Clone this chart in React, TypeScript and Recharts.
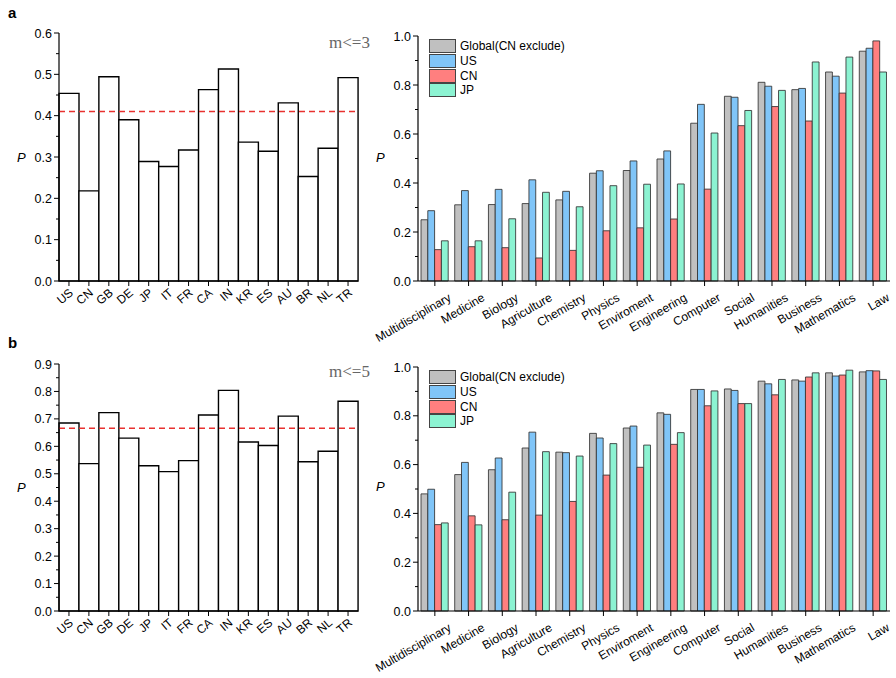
import { Bar, BarChart, Legend, ReferenceLine, XAxis, YAxis } from "recharts";

const FONT = "Arial, 'Liberation Sans', sans-serif";
const SERIF = "'Times New Roman', 'Liberation Serif', serif";

// left panels: P per country
const countries = ["US", "CN", "GB", "DE", "JP", "IT", "FR", "CA", "IN", "KR", "ES", "AU", "BR", "NL", "TR"];
const countryM3 = [0.454, 0.218, 0.494, 0.39, 0.289, 0.277, 0.317, 0.463, 0.513, 0.336, 0.314, 0.431, 0.253, 0.321, 0.492];
const countryM5 = [0.685, 0.537, 0.723, 0.63, 0.529, 0.508, 0.548, 0.714, 0.804, 0.616, 0.603, 0.71, 0.544, 0.582, 0.764];
const averageM3 = 0.41;
const averageM5 = 0.666;

// right panels: P per field
const fields = [
  "Multidisciplinary", "Medicine", "Biology", "Agriculture", "Chemistry", "Physics", "Enviroment",
  "Engineering", "Computer", "Social", "Humanities", "Business", "Mathematics", "Law",
];
const seriesNames = ["Global(CN exclude)", "US", "CN", "JP"];
const seriesColors = ["#c0c0c0", "#80c5f8", "#ff7f7f", "#8cf3d2"];

const globalM3 = [0.25, 0.311, 0.312, 0.316, 0.331, 0.44, 0.451, 0.498, 0.644, 0.754, 0.811, 0.781, 0.853, 0.938];
const usM3 = [0.287, 0.369, 0.374, 0.413, 0.366, 0.45, 0.49, 0.531, 0.721, 0.75, 0.795, 0.786, 0.836, 0.95];
const cnM3 = [0.128, 0.14, 0.136, 0.094, 0.125, 0.205, 0.217, 0.253, 0.375, 0.634, 0.712, 0.653, 0.767, 0.98];
const jpM3 = [0.164, 0.164, 0.254, 0.362, 0.303, 0.389, 0.395, 0.396, 0.604, 0.696, 0.778, 0.894, 0.914, 0.853];

const globalM5 = [0.48, 0.559, 0.579, 0.668, 0.651, 0.728, 0.75, 0.812, 0.908, 0.91, 0.942, 0.947, 0.976, 0.98];
const usM5 = [0.499, 0.609, 0.627, 0.733, 0.649, 0.709, 0.758, 0.806, 0.908, 0.904, 0.931, 0.942, 0.963, 0.985];
const cnM5 = [0.354, 0.39, 0.374, 0.393, 0.449, 0.557, 0.589, 0.683, 0.841, 0.85, 0.886, 0.959, 0.967, 0.984];
const jpM5 = [0.361, 0.353, 0.487, 0.653, 0.635, 0.686, 0.68, 0.731, 0.902, 0.85, 0.949, 0.976, 0.987, 0.949];

const ticksM3 = [0, 0.1, 0.2, 0.3, 0.4, 0.5, 0.6];
const ticksM5 = [0, 0.1, 0.2, 0.3, 0.4, 0.5, 0.6, 0.7, 0.8, 0.9];
const ticksField = [0, 0.2, 0.4, 0.6, 0.8, 1.0];

// put a minor tick halfway between each pair of major ticks
const withMinor = (major: number[]) =>
  major.flatMap((v, i) => (i === 0 ? [v] : [(major[i - 1] + v) / 2, v]));

const countryData = (values: number[]) => countries.map((name, i) => ({ name, p: values[i] }));
const fieldData = (g: number[], us: number[], cn: number[], jp: number[]) =>
  fields.map((name, i) => ({ name, global: g[i], us: us[i], cn: cn[i], jp: jp[i] }));

function YTick(props: any) {
  const { x, y, payload, index } = props;
  const ax = x + 5;
  const major = index % 2 === 0;
  return (
    <g>
      <line x1={ax} x2={ax - (major ? 5 : 3)} y1={y} y2={y} stroke="#000" strokeWidth={1} />
      {major && (
        <text x={ax - 7} y={y} dy="0.36em" textAnchor="end" fontSize={12.5} fontFamily={FONT} fill="#000">
          {payload.value.toFixed(1)}
        </text>
      )}
    </g>
  );
}

function CountryTick(props: any) {
  const { x, y, payload } = props;
  return (
    <g transform={`translate(${x + 5},${y + 8}) rotate(-40)`}>
      <text x={0} y={0} textAnchor="end" fontSize={12} fontFamily={FONT} fill="#000">
        {payload.value}
      </text>
    </g>
  );
}

function FieldTick(props: any) {
  const { x, y, payload } = props;
  return (
    <g transform={`translate(${x + 17},${y + 14}) rotate(-30)`}>
      <text x={0} y={0} textAnchor="end" fontSize={12} fontFamily={FONT} fill="#000">
        {payload.value}
      </text>
    </g>
  );
}

function FieldLegend(props: any) {
  const items = [...(props.payload || [])].sort(
    (a: any, b: any) => seriesNames.indexOf(a.value) - seriesNames.indexOf(b.value),
  );
  return (
    <div style={{ fontFamily: FONT, fontSize: 12, color: "#000" }}>
      {items.map((entry: any) => (
        <div key={entry.value} style={{ display: "flex", alignItems: "center", height: 14.7 }}>
          <span
            style={{
              display: "inline-block",
              width: 27,
              height: 14,
              boxSizing: "border-box",
              background: entry.color,
              border: "1px solid #444",
              marginRight: 4,
            }}
          />
          <span>{entry.value}</span>
        </div>
      ))}
    </div>
  );
}

function CountryChart({ values, average, ticks, height, top }: any) {
  return (
    <BarChart
      width={380}
      height={height}
      data={countryData(values)}
      margin={{ top, right: 22, left: 0, bottom: 0 }}
      barCategoryGap={0}
    >
      <XAxis
        dataKey="name"
        interval={0}
        height={height - 281}
        stroke="#000"
        axisLine={{ stroke: "#000", strokeWidth: 1.2 }}
        tickLine={{ stroke: "#000" }}
        tickSize={5}
        tickMargin={0}
        tick={<CountryTick />}
      />
      <YAxis
        width={59}
        domain={[0, ticks[ticks.length - 1]]}
        ticks={withMinor(ticks)}
        interval={0}
        axisLine={{ stroke: "#000", strokeWidth: 1.2 }}
        tickLine={false}
        tickSize={5}
        tickMargin={0}
        tick={<YTick />}
      />
      <Bar dataKey="p" fill="#fff" stroke="#000" strokeWidth={1.4} isAnimationActive={false} />
      <ReferenceLine y={average} stroke="#e8312f" strokeWidth={1.5} strokeDasharray="6 4" />
    </BarChart>
  );
}

function FieldChart({ data, height, top }: any) {
  const keys = ["global", "us", "cn", "jp"];
  return (
    <BarChart
      width={536}
      height={height}
      data={data}
      margin={{ top, right: 6, left: 0, bottom: 0 }}
      barSize={6.8}
      barGap={0}
    >
      <XAxis
        dataKey="name"
        interval={0}
        height={height - 281}
        stroke="#000"
        axisLine={{ stroke: "#000", strokeWidth: 1.2 }}
        tickLine={{ stroke: "#000" }}
        tickSize={5}
        tickMargin={0}
        tick={<FieldTick />}
      />
      <YAxis
        width={58}
        domain={[0, 1]}
        ticks={withMinor(ticksField)}
        interval={0}
        axisLine={{ stroke: "#000", strokeWidth: 1.2 }}
        tickLine={false}
        tickSize={5}
        tickMargin={0}
        tick={<YTick />}
      />
      <Legend
        layout="vertical"
        align="center"
        verticalAlign="middle"
        content={<FieldLegend />}
        wrapperStyle={{ left: 69, top: top + 3, width: 160 }}
      />
      {keys.map((k, i) => (
        <Bar
          key={k}
          dataKey={k}
          name={seriesNames[i]}
          fill={seriesColors[i]}
          stroke="#333"
          strokeOpacity={0.85}
          strokeWidth={1}
          isAnimationActive={false}
        />
      ))}
    </BarChart>
  );
}

const labelStyle = { position: "absolute" as const, fontFamily: FONT, margin: 0 };

export default function App() {
  return (
    <div style={{ position: "absolute", left: 0, top: 0, width: 896, height: 678, background: "#fff", overflow: "hidden" }}>
      <div style={{ position: "absolute", left: 0, top: 0 }}>
        <CountryChart values={countryM3} average={averageM3} ticks={ticksM3} height={345} top={33} />
      </div>
      <div style={{ position: "absolute", left: 360, top: 0 }}>
        <FieldChart data={fieldData(globalM3, usM3, cnM3, jpM3)} height={345} top={36} />
      </div>
      <div style={{ position: "absolute", left: 0, top: 330 }}>
        <CountryChart values={countryM5} average={averageM5} ticks={ticksM5} height={348} top={34} />
      </div>
      <div style={{ position: "absolute", left: 360, top: 330 }}>
        <FieldChart data={fieldData(globalM5, usM5, cnM5, jpM5)} height={348} top={37} />
      </div>

      <div style={{ ...labelStyle, left: 8, top: 5, fontSize: 15, lineHeight: "15px", fontWeight: "bold" }}>a</div>
      <div style={{ ...labelStyle, left: 8, top: 335, fontSize: 15, lineHeight: "15px", fontWeight: "bold" }}>b</div>

      <div style={{ ...labelStyle, left: 17, top: 151, fontSize: 13, lineHeight: "13px", fontStyle: "italic" }}>P</div>
      <div style={{ ...labelStyle, left: 376, top: 151, fontSize: 13, lineHeight: "13px", fontStyle: "italic" }}>P</div>
      <div style={{ ...labelStyle, left: 17, top: 481, fontSize: 13, lineHeight: "13px", fontStyle: "italic" }}>P</div>
      <div style={{ ...labelStyle, left: 376, top: 480, fontSize: 13, lineHeight: "13px", fontStyle: "italic" }}>P</div>

      <div style={{ ...labelStyle, fontFamily: SERIF, left: 329, top: 34, fontSize: 17, lineHeight: "17px", color: "#666" }}>
        m&lt;=3
      </div>
      <div style={{ ...labelStyle, fontFamily: SERIF, left: 329, top: 363, fontSize: 17, lineHeight: "17px", color: "#666" }}>
        m&lt;=5
      </div>
    </div>
  );
}
